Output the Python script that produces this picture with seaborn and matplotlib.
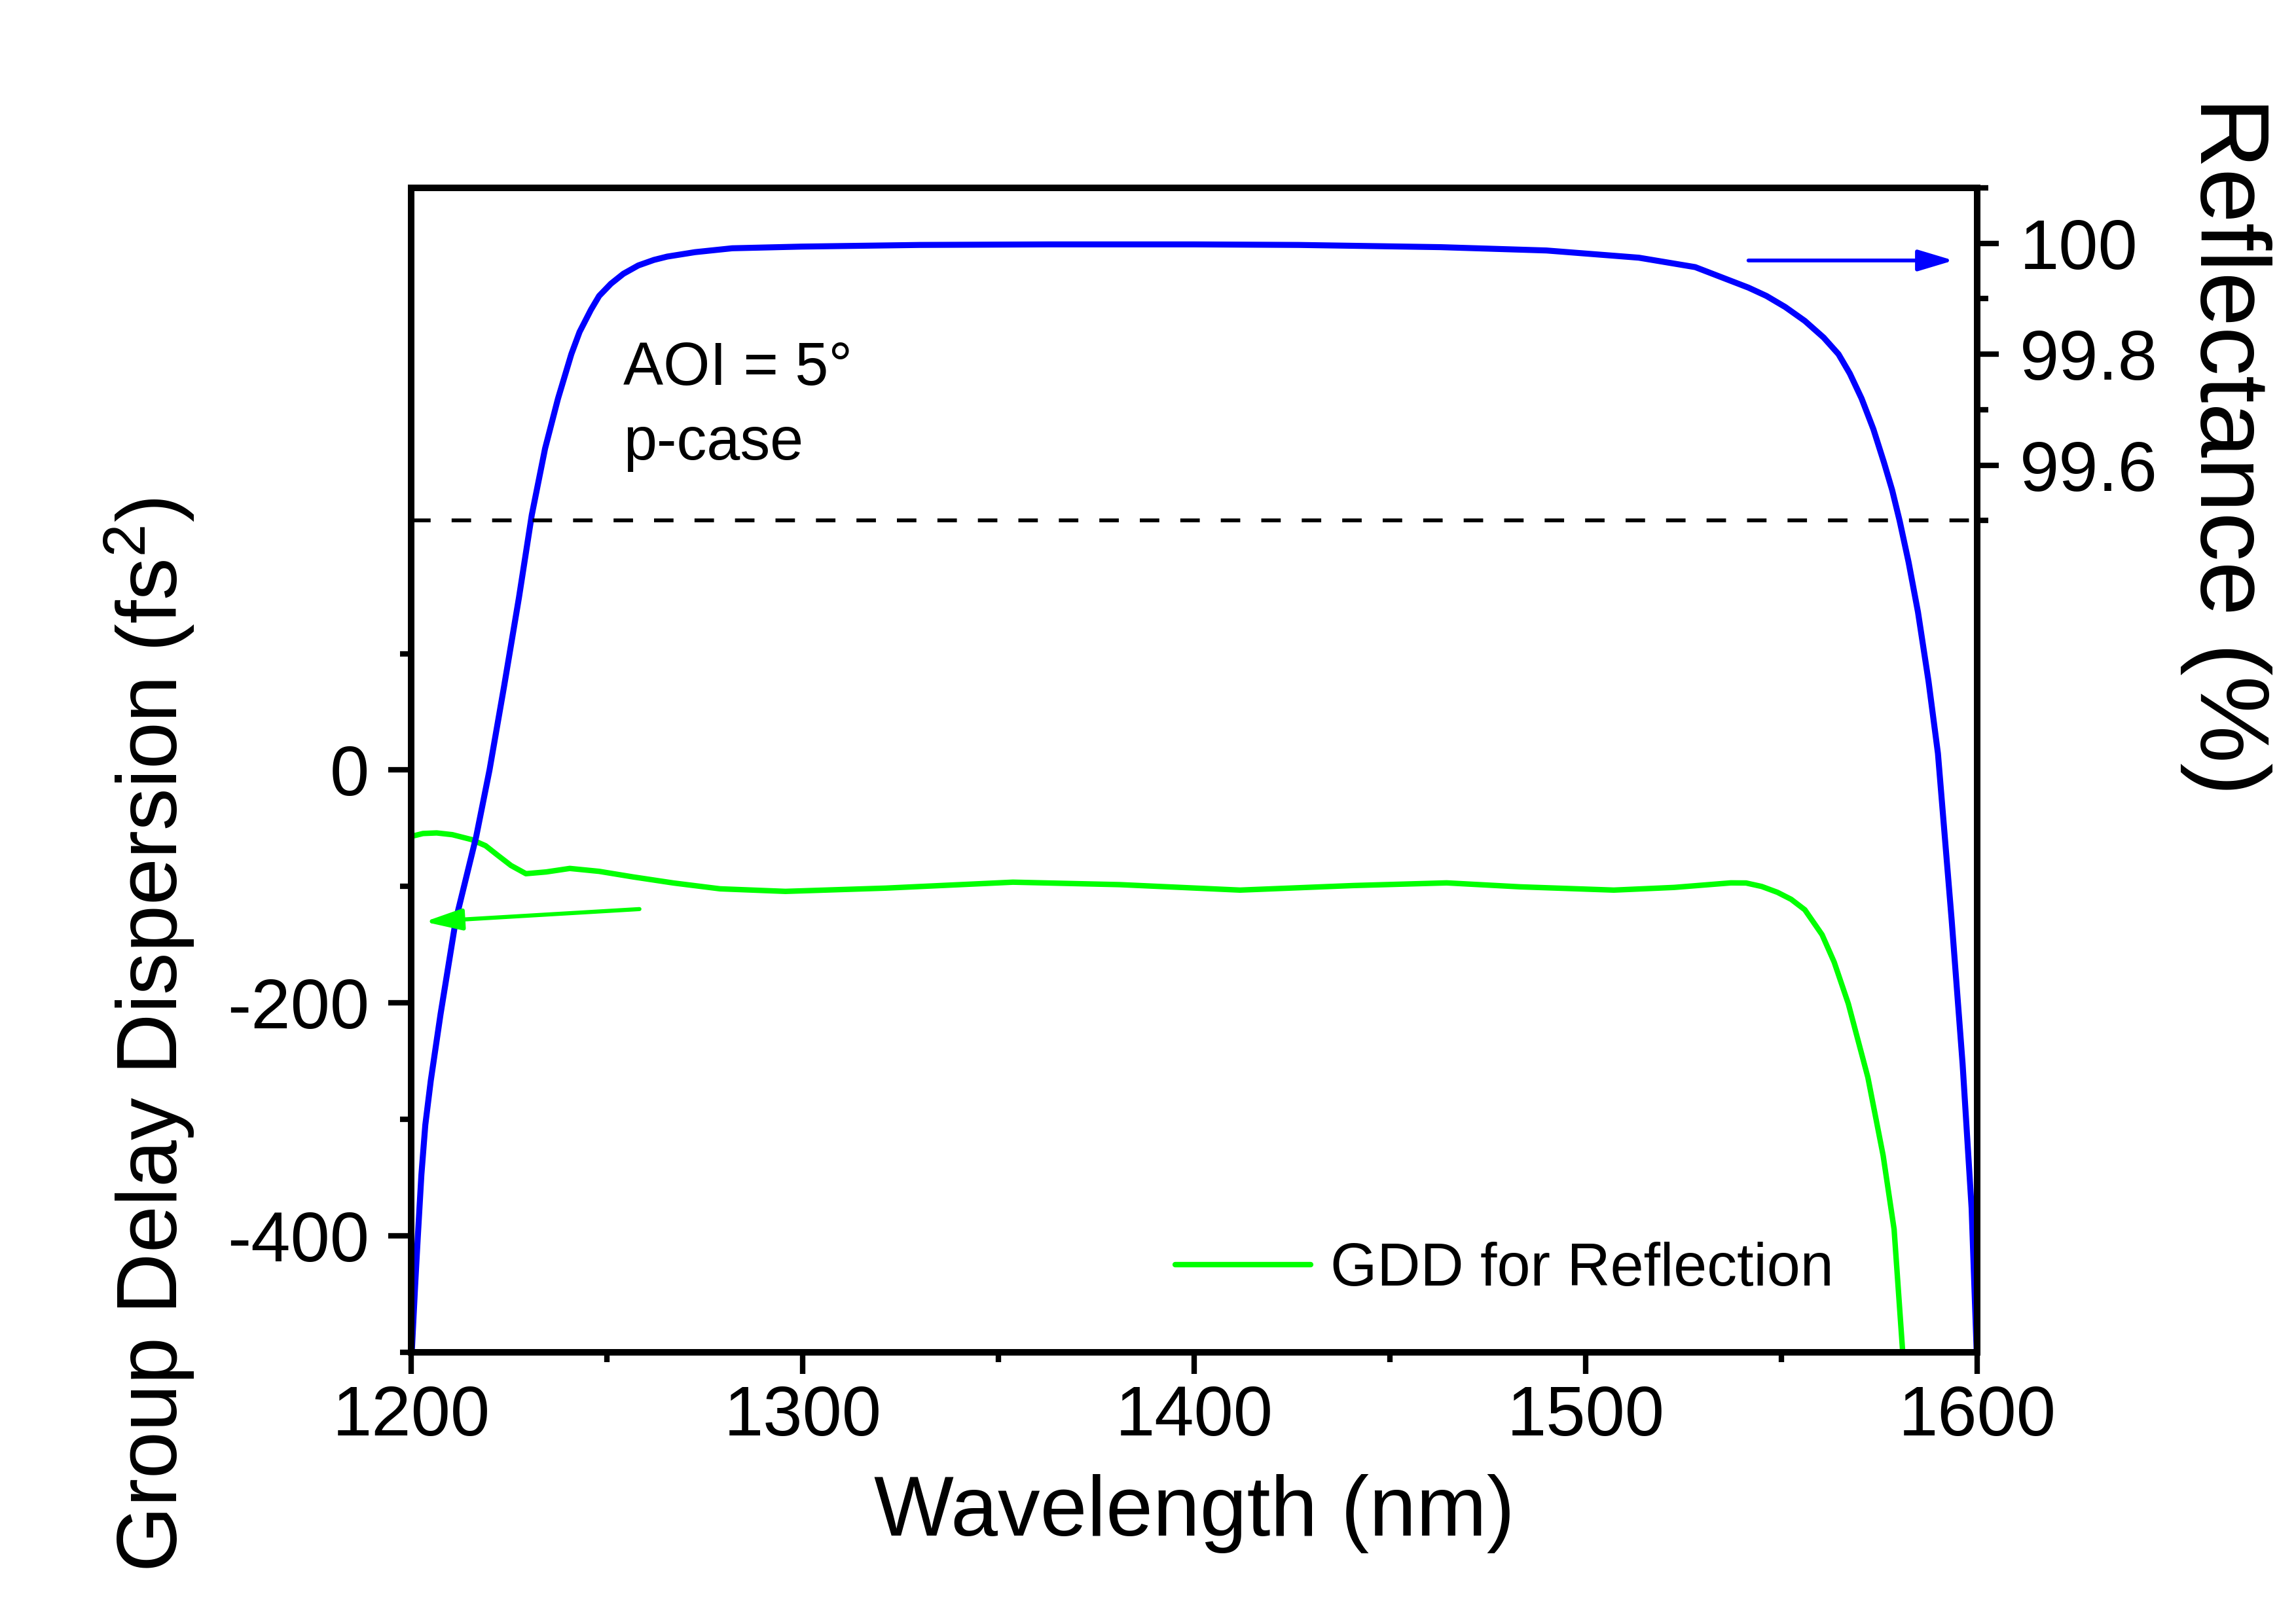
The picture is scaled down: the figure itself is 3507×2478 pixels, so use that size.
import numpy as np
import pandas as pd
import matplotlib
matplotlib.use("Agg")
import matplotlib.pyplot as plt
import seaborn as sns

# reflectance (right axis)
wl_refl = [1200.0, 1201.0, 1201.7, 1202.6, 1203.6, 1205.0, 1207.5, 1211.4, 1216.6,
           1220.0, 1223.7, 1227.5, 1230.8, 1234.2, 1237.5, 1240.9, 1243.0, 1245.9,
           1248.0, 1251.0, 1254.2, 1258.0, 1262.0, 1265.4, 1272.5, 1282.0, 1299.7,
           1330.0, 1363.0, 1400.0, 1426.7, 1463.0, 1490.0, 1513.6, 1528.0, 1541.6,
           1546.2, 1551.0, 1556.0, 1560.8, 1564.6, 1567.5, 1570.5, 1573.5, 1576.2,
           1578.3, 1580.2, 1582.5, 1584.9, 1587.6, 1590.0, 1593.5, 1596.3, 1598.6,
           1600.0]
refl = [97.98, 98.12, 98.21, 98.32, 98.41, 98.49, 98.61, 98.78, 98.93,
        99.05, 99.20, 99.36, 99.51, 99.63, 99.72, 99.80, 99.84, 99.88,
        99.905, 99.927, 99.945, 99.96, 99.97, 99.976, 99.984, 99.991, 99.994,
        99.997, 99.998, 99.998, 99.997, 99.993, 99.987, 99.974, 99.957, 99.92,
        99.905, 99.885, 99.86, 99.83, 99.80, 99.765, 99.72, 99.665, 99.605,
        99.555, 99.50, 99.425, 99.335, 99.21, 99.08, 98.78, 98.52, 98.26,
        97.98]

# group delay dispersion (left axis)
wl_gdd = [1200.0, 1203.0, 1206.5, 1210.5, 1215.4, 1219.0, 1222.1, 1225.5, 1229.3,
          1234.5, 1240.5, 1248.0, 1256.7, 1267.0, 1278.9, 1295.6, 1321.2, 1353.7,
          1380.9, 1411.7, 1440.6, 1464.5, 1483.3, 1507.2, 1522.6, 1537.1, 1541.0,
          1545.0, 1549.0, 1552.5, 1556.0, 1560.4, 1563.5, 1567.1, 1572.1, 1576.0,
          1578.8, 1581.0]
gdd = [-57.0, -54.5, -54.0, -55.5, -59.7, -65.0, -73.2, -82.0, -89.0,
       -87.5, -84.5, -87.0, -91.8, -97.0, -102.0, -104.2, -101.4, -96.3,
       -98.4, -103.1, -99.2, -96.9, -100.3, -103.1, -100.8, -96.9, -97.0,
       -100.0, -105.0, -111.0, -120.0, -141.4, -165.0, -200.6, -263.9, -331.0,
       -394.3, -500.0]

refl_limit = 99.5

x_ticks = [1200, 1300, 1400, 1500, 1600]
x_minor = [1250, 1350, 1450, 1550]
gdd_ticks = [-400, -200, 0]
gdd_minor = [-500, -300, -100, 100]
refl_ticks = [99.6, 99.8, 100.0]
refl_labels = ["99.6", "99.8", "100"]
refl_minor = [99.5, 99.7, 99.9, 100.1]

df_refl = pd.DataFrame({"wl": wl_refl, "R": refl})
df_gdd = pd.DataFrame({"wl": wl_gdd, "GDD": gdd})

sns.set_theme(style="ticks")
plt.rcParams["font.family"] = ["Liberation Sans", "DejaVu Sans"]
plt.rcParams["mathtext.fontset"] = "custom"
plt.rcParams["mathtext.rm"] = "Liberation Sans"
plt.rcParams["mathtext.default"] = "rm"
for k in ("text.color", "axes.labelcolor", "xtick.color", "ytick.color", "axes.edgecolor"):
    plt.rcParams[k] = "black"

fig = plt.figure(figsize=(3507 / 300, 2478 / 300), dpi=300)
ax = fig.add_axes([0.1791, 0.1663, 0.682, 0.7179])
ax2 = ax.twinx()

blue = "#0000FF"
green = "#00FF00"

sns.lineplot(data=df_gdd, x="wl", y="GDD", ax=ax, color=green, lw=2.0,
             label="GDD for Reflection", estimator=None, sort=False)
sns.lineplot(data=df_refl, x="wl", y="R", ax=ax2, color=blue, lw=2.2,
             legend=False, estimator=None, sort=False)
ax2.axhline(refl_limit, color="black", lw=1.4, linestyle=(0, (5.1, 5.5)))

ax.set_xlim(1200, 1600)
ax.set_ylim(-500, 500)
ax2.set_ylim(98.0, 100.1)

ax.set_xticks(x_ticks)
ax.set_xticks(x_minor, minor=True)
ax.set_yticks(gdd_ticks)
ax.set_yticks(gdd_minor, minor=True)
ax.set_yticklabels([str(v) for v in gdd_ticks])
ax2.set_yticks(refl_ticks)
ax2.set_yticklabels(refl_labels)
ax2.set_yticks(refl_minor, minor=True)

for a in (ax, ax2):
    for s in a.spines.values():
        s.set_linewidth(2.4)
        s.set_color("black")
ax.tick_params(axis="x", which="major", length=8, width=2, pad=3.8, labelsize=26)
ax.tick_params(axis="x", which="minor", length=3.6, width=2)
ax.tick_params(axis="y", which="major", length=8.4, width=2, pad=7, labelsize=26)
ax.tick_params(axis="y", which="minor", length=4, width=2)
ax2.tick_params(axis="y", which="major", length=8, width=2, pad=7.5, labelsize=26)
ax2.tick_params(axis="y", which="minor", length=4, width=2)

ax.set_xlabel("Wavelength (nm)", fontsize=31)
ax.xaxis.set_label_coords(0.5, -0.1046)
ax.set_ylabel("Group Delay Dispersion (fs$^2$)", fontsize=31)
ax.yaxis.set_label_coords(-0.137, 0.2726)
ax2.set_ylabel("Reflectance (%)", fontsize=36, rotation=270, va="bottom")
ax2.yaxis.set_label_coords(1.1296, 0.778)

ax.text(0.1355, 0.8308, "AOI = 5°", transform=ax.transAxes, fontsize=22,
        ha="left", va="baseline")
ax.text(0.1355, 0.7667, "p-case", transform=ax.transAxes, fontsize=22,
        ha="left", va="baseline")

# arrows pointing to the axis each curve belongs to
ax2.annotate("", xy=(1594.0, 99.969), xytext=(1541.6, 99.969),
             arrowprops=dict(arrowstyle="-|>,head_length=1.1,head_width=0.33",
                             color=blue, lw=1.4, shrinkA=0, shrinkB=0,
                             mutation_scale=10))
ax2.annotate("", xy=(1203.4, -130.3), xycoords=ax.transData,
             xytext=(1258.3, -119.4), textcoords=ax.transData,
             arrowprops=dict(arrowstyle="-|>,head_length=1.15,head_width=0.33",
                             color=green, lw=1.5, shrinkA=0, shrinkB=0,
                             mutation_scale=10))

ax.legend(loc="center left", bbox_to_anchor=(0.488, 0.0708), frameon=False,
          fontsize=22, handlelength=2.26, handletextpad=0.32, borderpad=0,
          borderaxespad=0)

fig.savefig("out.png", dpi=300)
